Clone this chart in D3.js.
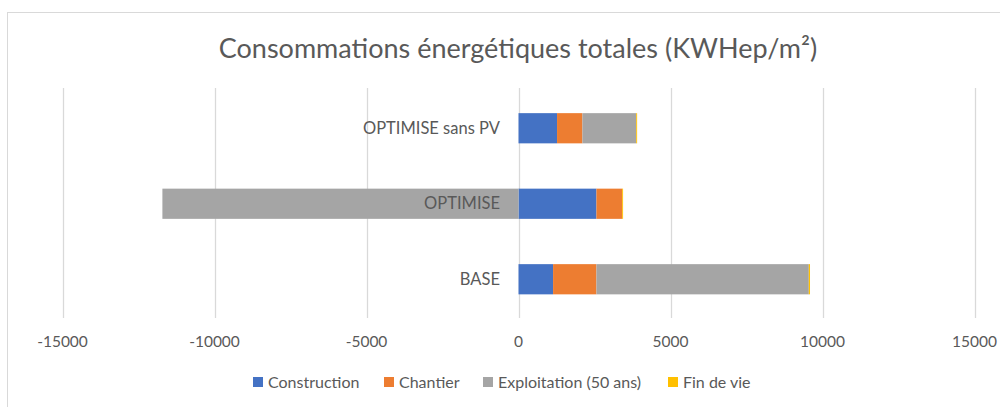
<!DOCTYPE html>
<meta charset="utf-8">
<script src="https://d3js.org/d3.v7.min.js"></script>
<style>
  body { margin: 0; background: #fff; }
  text { font-family: Lato, "Open Sans", sans-serif; fill: #595959; }
</style>
<div id="my_dataviz"></div>
<script>

// data
var categories = ["OPTIMISE sans PV", "OPTIMISE", "BASE"]
var construction = [1268, 2564, 1137]
var chantier = [835, 846, 1427]
var exploitation = [1769, -11714, 6985]
var finDeVie = [30, 30, 40]
var seriesNames = ["Construction", "Chantier", "Exploitation (50 ans)", "Fin de vie"]
var seriesColors = ["#4472C4", "#ED7D31", "#A5A5A5", "#FFC000"]
var tickValues = [-15000, -10000, -5000, 0, 5000, 10000, 15000]

var width = 1000
    height = 407

var svg = d3.select("#my_dataviz")
  .append("svg")
    .attr("width", width)
    .attr("height", height)

// chart border
svg.append("rect")
  .attr("x", 7.5).attr("y", 12.5)
  .attr("width", 1100).attr("height", 500)
  .attr("fill", "none")
  .attr("stroke", "#d9d9d9")

svg.append("text")
  .attr("x", 518).attr("y", 58)
  .attr("text-anchor", "middle")
  .style("font-size", "27px")
  .text("Consommations énergétiques totales (KWHep/m²)")

var x = d3.scaleLinear()
  .domain([-15000, 15000])
  .range([62.5, 974.5])

var y = d3.scaleBand()
  .domain(categories)
  .range([90.5, 317])
  .paddingInner(0.6)
  .paddingOuter(0.3)

// table for the stack
var table = categories.map(function(c, i) {
  return {cat: c, s0: construction[i], s1: chantier[i], s2: exploitation[i], s3: finDeVie[i]}
})
var stacked = d3.stack()
  .keys(["s0", "s1", "s2", "s3"])
  .offset(d3.stackOffsetDiverging)(table)

// gridlines
svg.selectAll("line.grid")
  .data(tickValues)
  .enter()
  .append("line")
    .attr("x1", function(d) { return Math.round(x(d)) + 0.5 })
    .attr("x2", function(d) { return Math.round(x(d)) + 0.5 })
    .attr("y1", 88)
    .attr("y2", 318)
    .attr("stroke", "#d9d9d9")
    .attr("stroke-width", 1.3)

// bars
svg.selectAll("g.series")
  .data(stacked)
  .enter()
  .append("g")
    .attr("fill", function(d, i) { return seriesColors[i] })
  .selectAll("rect")
  .data(function(d) { return d })
  .enter()
  .append("rect")
    .attr("x", function(d) { return x(Math.min(d[0], d[1])) })
    .attr("width", function(d) { return Math.abs(x(d[1]) - x(d[0])) })
    .attr("y", function(d) { return y(d.data.cat) })
    .attr("height", y.bandwidth())

// tick labels
svg.selectAll("text.tick")
  .data(tickValues)
  .enter()
  .append("text")
    .attr("x", function(d) { return x(d) })
    .attr("y", 347)
    .attr("text-anchor", "middle")
    .style("font-size", "15.5px")
    .text(function(d) { return d })

// category labels
svg.selectAll("text.cat")
  .data(categories)
  .enter()
  .append("text")
    .attr("x", 500)
    .attr("y", function(d) { return y(d) + y.bandwidth() / 2 + 5.5 })
    .attr("text-anchor", "end")
    .style("font-size", "16.5px")
    .text(function(d) { return d })

// legend
var legendX = [253, 384, 483, 668]
var legend = svg.selectAll("g.legend")
  .data(seriesNames)
  .enter()
  .append("g")
    .attr("transform", function(d, i) { return "translate(" + legendX[i] + ",377)" })
legend.append("rect")
  .attr("width", 10).attr("height", 10)
  .attr("fill", function(d, i) { return seriesColors[i] })
legend.append("text")
  .attr("x", 15).attr("y", 10.5)
  .style("font-size", "16px")
  .text(function(d) { return d })

</script>
